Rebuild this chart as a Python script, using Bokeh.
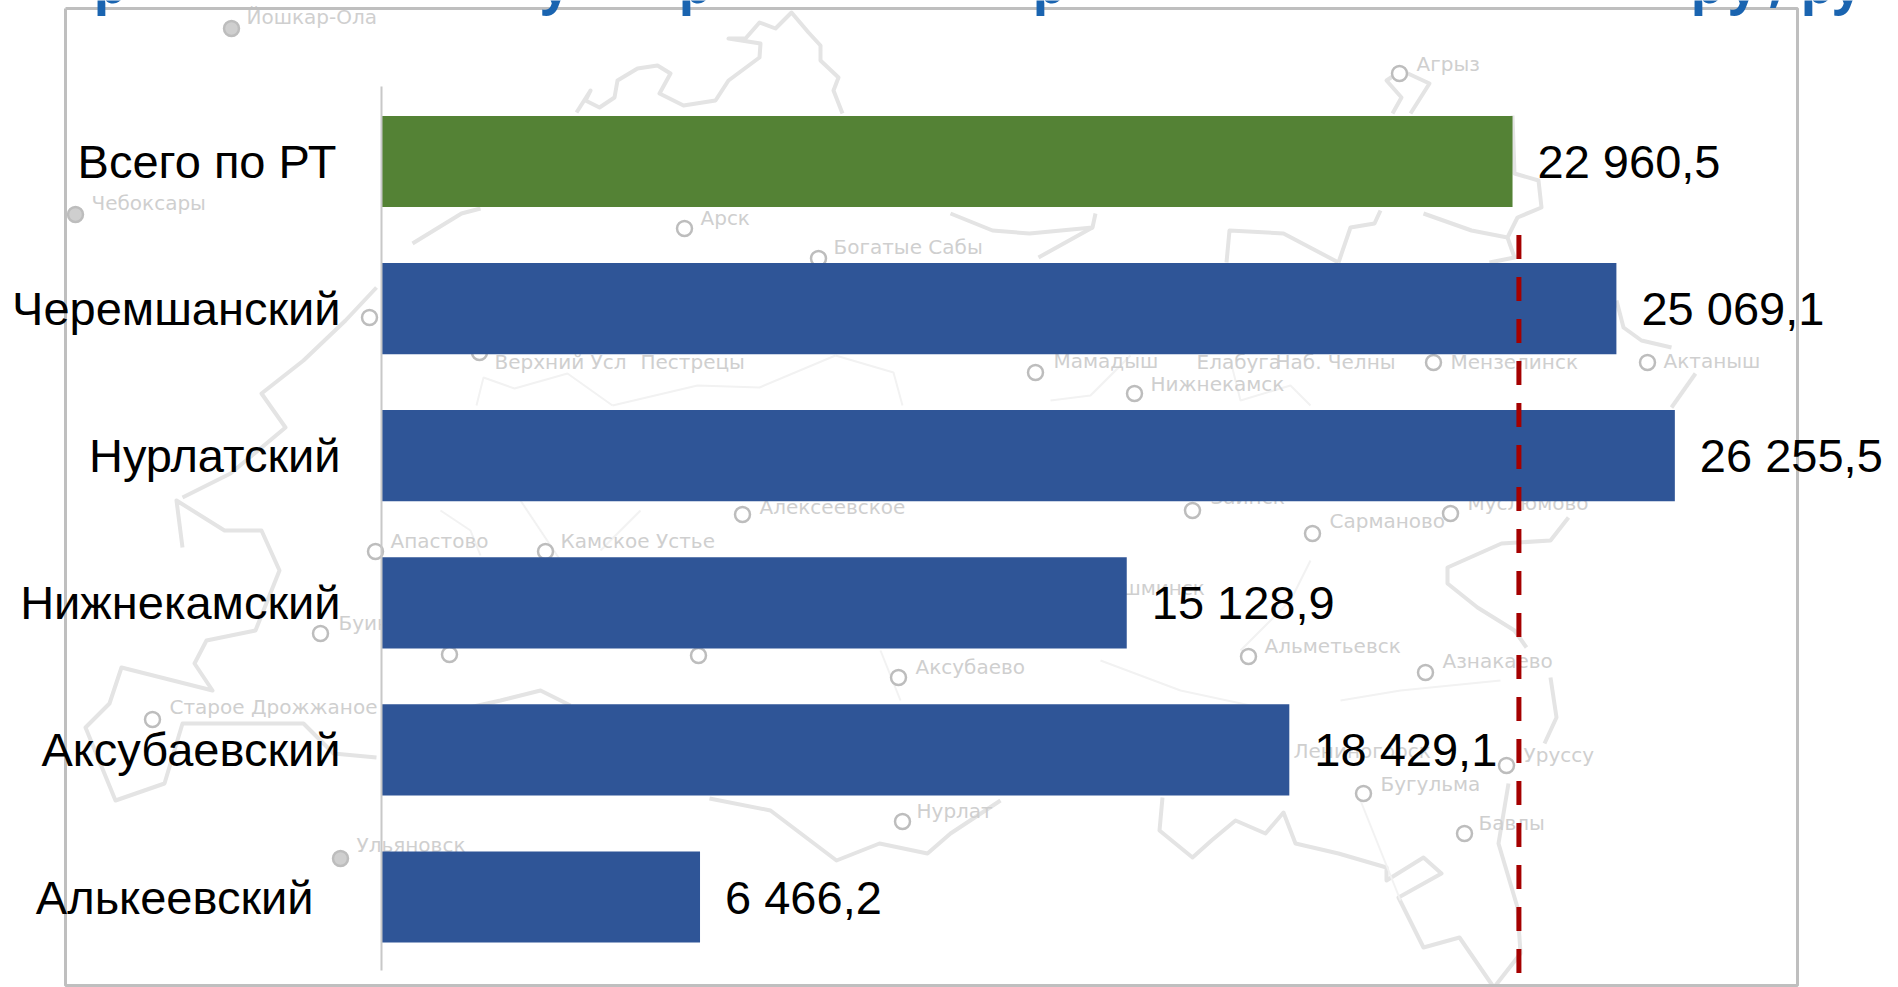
from bokeh.plotting import figure
from bokeh.models import Range1d, ColumnDataSource
from bokeh.core.properties import value
from bokeh.embed import file_html
from bokeh.resources import INLINE

categories = ["Всего по РТ", "Черемшанский", "Нурлатский", "Нижнекамский", "Аксубаевский", "Алькеевский"]
values = [22960.5, 25069.1, 26255.5, 15128.9, 18429.1, 6466.2]
value_labels = ["22 960,5", "25 069,1", "26 255,5", "15 128,9", "18 429,1", "6 466,2"]
bar_colors = ["#548235", "#2f5597", "#2f5597", "#2f5597", "#2f5597", "#2f5597"]
reference_value = 23090
label_shift = [-4, 0, 0, 0, 0, -27]

# Background map (picture coordinates of the faded slide image)
borders = [
    [(576,112),(590,90),(585,100),(599,107),(614,97),(617,80),(637,68),(657,65),(670,73),(659,93),(683,105),(715,100),(728,80),(759,57),(760,43),(728,38),(745,38),(759,22),(775,28),(791,12),(808,32),(820,45),(820,60),(838,77),(833,90),(842,113)],
    [(1392,113),(1401,97),(1386,80),(1401,70),(1429,83),(1410,113)],
    [(1512,115),(1514,173),(1538,180),(1541,207),(1517,217),(1507,237),(1514,257),(1489,262)],
    [(950,213),(992,230),(1029,233),(1092,227),(1095,213)],
    [(1092,227),(1038,257)],
    [(1226,262),(1229,230),(1283,233),(1338,262)],
    [(1338,262),(1350,227),(1374,223),(1380,210)],
    [(1423,213),(1471,230),(1507,237)],
    [(1616,300),(1623,327),(1641,340),(1671,347)],
    [(1695,373),(1671,407)],
    [(1568,517),(1550,540),(1501,543),(1447,567),(1447,583),(1477,607),(1514,630),(1526,647)],
    [(1550,677),(1556,717),(1544,743)],
    [(1508,783),(1498,843),(1517,907),(1520,953),(1495,985)],
    [(1162,797),(1159,830),(1192,857),(1211,840),(1235,820),(1265,833),(1283,812),(1295,843),(1338,853),(1386,867),(1386,880),(1423,857),(1441,873),(1398,897),(1423,947),(1459,937),(1492,985)],
    [(709,798),(770,810),(836,860),(879,843),(927,853),(950,833),(1000,800)],
    [(182,547),(176,500),(224,530),(261,530),(279,570),(255,630),(206,640),(194,663),(212,690),(121,667),(109,703),(85,727),(115,800),(164,783),(182,723),(242,723),(303,723),(333,753),(376,757)],
    [(376,287),(345,320),(303,360),(261,393),(285,427),(230,473),(182,497)],
    [(412,243),(461,213),(480,208)],
    [(455,710),(500,700),(540,690),(570,705)],
]
districts = [
    [(476,405),(483,377),(514,388),(567,373),(612,405)],
    [(612,405),(697,385),(759,387),(835,355)],
    [(835,355),(893,372),(902,405)],
    [(1050,400),(1090,395),(1130,355)],
    [(1230,360),(1240,400),(1290,385),(1310,405)],
    [(1240,650),(1290,600),(1310,560)],
    [(1340,700),(1400,690),(1500,680)],
    [(1360,800),(1400,900)],
    [(1100,660),(1180,690),(1250,705)],
    [(440,510),(470,530),(480,555)],
    [(520,500),(560,560)],
    [(640,510),(600,550)],
    [(880,650),(900,700)],
]
cities = [
    ("Йошкар-Ола",231,28,246,16,1),("Чебоксары",75,214,91,202,1),("Арск",684,228,700,217,0),
    ("Богатые Сабы",818,258,833,246,0),("Агрыз",1399,73,1416,63,0),("",369,317,0,0,0),
    ("Верхний Усл",479,352,494,361,0),("Пестрецы",None,None,640,361,0),("Мамадыш",1035,372,1053,360,0),
    ("Елабуга",None,None,1196,361,0),("Наб. Челны",1433,362,1275,361,0),("Мензелинск",None,None,1450,361,0),
    ("Актаныш",1647,362,1663,360,0),("Нижнекамск",1134,393,1150,383,0),("Алексеевское",742,514,759,506,0),
    ("Заинск",1192,510,1210,496,0),("Муслюмово",1450,513,1467,502,0),("Сарманово",1312,533,1329,520,0),
    ("Апастово",375,551,390,540,0),("Камское Устье",545,551,560,540,0),("Буинск",320,633,338,622,0),
    ("",449,654,0,0,0),("",698,655,0,0,0),("Аксубаево",898,677,915,666,0),("Альметьевск",1248,656,1264,645,0),
    ("Азнакаево",1425,672,1442,660,0),("Старое Дрожжаное",152,719,169,706,0),("Лениногорск",None,None,1293,750,0),
    ("Уруссу",1506,765,1523,754,0),("Бугульма",1363,793,1380,783,0),("Бавлы",1464,833,1478,822,0),
    ("Нурлат",902,821,916,810,0),("Ульяновск",340,858,356,844,1),("Новошешминск",None,None,1040,587,0),
]
# Fragments of the slide heading cut off by the top edge
heading_glyphs = [("р",93),("у",540),("р",678),("р",1032),("р",1690),("у",1728),(",",1768),("р",1800),("у",1832)]

W, H = 1898, 987
ZERO_PX, PX_PER_UNIT = 381.0, 0.04926
ROW0_PX, ROW_PX = 161.0, 147.1

p = figure(width=W, height=H, output_backend="svg", toolbar_location=None,
           x_range=Range1d(-ZERO_PX / PX_PER_UNIT, (W - ZERO_PX) / PX_PER_UNIT),
           y_range=Range1d((H - ROW0_PX) / ROW_PX, -ROW0_PX / ROW_PX),
           min_border=0, outline_line_color=None, background_fill_color="white")
p.extra_x_ranges = {"px": Range1d(0, W)}
p.extra_y_ranges = {"px": Range1d(H, 0)}
p.axis.visible = False
p.grid.visible = False
PX = dict(x_range_name="px", y_range_name="px")

# map
p.multi_line([[q[0] for q in b] for b in borders], [[q[1] for q in b] for b in borders],
             line_color="#e4e4e4", line_width=4, line_join="round", **PX)
p.multi_line([[q[0] for q in b] for b in districts], [[q[1] for q in b] for b in districts],
             line_color="#f2f2f2", line_width=2, **PX)
lab = [c for c in cities if c[0]]
p.text([c[3] for c in lab], [c[4] for c in lab], text=[c[0] for c in lab],
       text_font=value("DejaVu Sans"), text_font_size="20px", text_color="#cfcfcf",
       text_baseline="middle", text_align="left", **PX)
rings = [c for c in cities if c[1] is not None]
p.scatter([c[1] for c in rings], [c[2] for c in rings], size=15,
          fill_color=["#cfcfcf" if c[5] else "#ffffff" for c in rings],
          line_color="#bdbdbd", line_width=2.5, **PX)

# slide frame
p.line([65, 1797, 1797, 65, 65], [8, 8, 985, 985, 8], line_color="#bfbfbf", line_width=3, **PX)

# heading fragments
p.text([g[1] for g in heading_glyphs], [-18] * len(heading_glyphs), text=[g[0] for g in heading_glyphs],
       text_font=value("Open Sans"), text_font_style="bold", text_font_size="52px", text_color="#1a64b0",
       text_baseline="alphabetic", text_align="left", **PX)

# bars
rows = list(range(len(categories)))
src = ColumnDataSource(dict(y=rows, v=values, c=bar_colors, t=value_labels, n=categories,
                            o=[s - 41 for s in label_shift]))
p.hbar(y="y", left=0, right="v", height=0.62, fill_color="c", line_color=None, source=src)

# axis line
p.segment([0], [-0.51], [0], [5.5], line_color="#c8c8c8", line_width=2)

# reference line
p.segment([reference_value], [0.5], [reference_value], [5.575], line_color="#a50000", line_width=5,
          line_dash="24 18")

# labels
p.text(x="v", y="y", text="t", x_offset=25, source=src, text_font=value("Liberation Sans"),
       text_font_size="47px", text_color="#000000", text_baseline="middle", text_align="left")
p.text(x=0, y="y", text="n", x_offset="o", source=src, text_font=value("Liberation Sans"),
       text_font_size="47px", text_color="#000000", text_baseline="middle", text_align="right")

open("out.html", "w").write(file_html(p, INLINE))
